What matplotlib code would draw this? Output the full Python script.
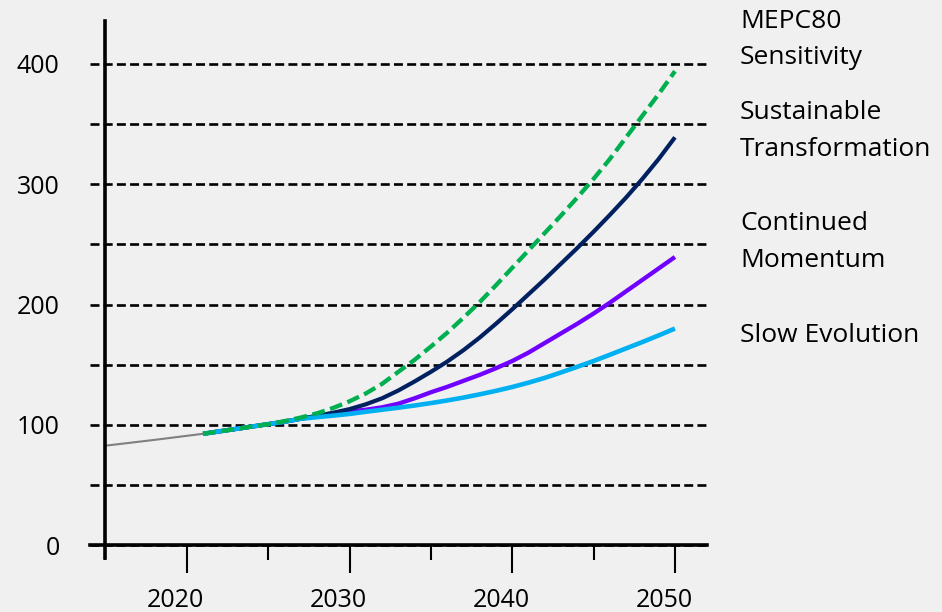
import numpy as np
import matplotlib.pyplot as plt
from matplotlib.transforms import ScaledTranslation

# historic trend
hist_years = [2015, 2016, 2017, 2018, 2019, 2020, 2021]
hist_vals = [82.6, 84.2, 85.8, 87.4, 89.1, 90.8, 92.5]

# scenario projections
years = list(range(2021, 2051))
mepc80 = [92.5, 94.5, 96.5, 98.5, 100.5, 103, 106, 109.5, 114, 119.5,
          126, 134, 144, 154, 165, 176.5, 189, 202, 216, 230.5,
          245, 259.5, 274, 289, 304.5, 321, 339, 357, 375, 394]
sustainable = [92.5, 94.5, 96.5, 98.5, 100.5, 102.5, 105, 107.5, 110, 113,
               117, 122, 128.5, 136, 144, 152.5, 162, 172.5, 184, 196,
               208.5, 221, 234, 247, 260.5, 274.5, 289, 304.5, 321, 339]
continued = [92.5, 94.5, 96.5, 98.5, 100.5, 102.5, 105, 107, 109.5, 111,
             112.5, 114.5, 117.5, 122, 127, 131.5, 136.5, 141.5, 147, 153,
             160, 168, 176, 184, 192.5, 201.5, 211, 220.5, 230, 239.5]
slow = [92.5, 94.5, 96.5, 98.5, 100.5, 102.5, 105, 106.3, 107.6, 109,
        110.8, 112.5, 114.2, 116, 118, 120.2, 122.6, 125.3, 128.2, 131.4,
        135, 139, 143.5, 148.2, 153, 158.2, 163.5, 168.8, 174.3, 180]

labels = ['MEPC80\nSensitivity', 'Sustainable\nTransformation',
          'Continued\nMomentum', 'Slow Evolution']
label_tops = [8.5, 100, 211.5, 323.5]   # px from top of figure

bg = '#f0f0f0'
plt.rcParams['font.family'] = ['Open Sans', 'DejaVu Sans']

fig = plt.figure(figsize=(9.42, 6.12), dpi=100, facecolor=bg)
ax = fig.add_axes([90 / 942, 54 / 612, (707 - 90) / 942, (558 - 20.7) / 612])
ax.set_facecolor(bg)

ax.plot(hist_years, hist_vals, color='#808080', lw=1.5, zorder=2)
ax.plot(years, continued, color='#7000FF', lw=3.1, zorder=3, solid_capstyle='butt')
ax.plot(years, sustainable, color='#002060', lw=3.0, zorder=4, solid_capstyle='butt')
ax.plot(years, slow, color='#00B0F0', lw=3.3, zorder=5, solid_capstyle='butt')
ax.plot(years, mepc80, color='#00B050', lw=3.1, zorder=6, dashes=(3.0, 1.3))

ax.set_xlim(2014.05, 2051.97)
ax.set_ylim(-10.8, 436)

# axes cross at (2015, 0)
for s in ['top', 'right']:
    ax.spines[s].set_visible(False)
ax.spines['left'].set_position(('data', 2015))
ax.spines['bottom'].set_position(('data', 0))
for s in ['left', 'bottom']:
    ax.spines[s].set_linewidth(2.6)
    ax.spines[s].set_color('black')

ax.set_xticks([2020, 2030, 2040, 2050])
ax.set_xticks([2015, 2025, 2035, 2045], minor=True)
ax.tick_params(axis='x', which='major', direction='out', length=20, width=1.5,
               pad=11, labelsize=18, color='black')
ax.tick_params(axis='x', which='minor', direction='out', length=11, width=1.5,
               color='black')
# year labels sit a little left of their ticks
offset = ScaledTranslation(-11 / 100, 0, fig.dpi_scale_trans)
for lab in ax.xaxis.get_majorticklabels():
    lab.set_transform(lab.get_transform() + offset)

ax.set_yticks(np.arange(0, 401, 50))
ax.set_yticklabels([str(v) if v % 100 == 0 else '' for v in range(0, 401, 50)])
ax.tick_params(axis='y', length=0, pad=33, labelsize=18)
ax.yaxis.grid(True, color='black', lw=1.9, dashes=(3.4, 1.6))
ax.set_axisbelow(True)

for text, top in zip(labels, label_tops):
    fig.text(740 / 942, 1 - top / 612, text, fontsize=19, va='top', ha='left',
             linespacing=1.63, color='black')

fig.savefig('out.png', dpi=100, facecolor=bg)
